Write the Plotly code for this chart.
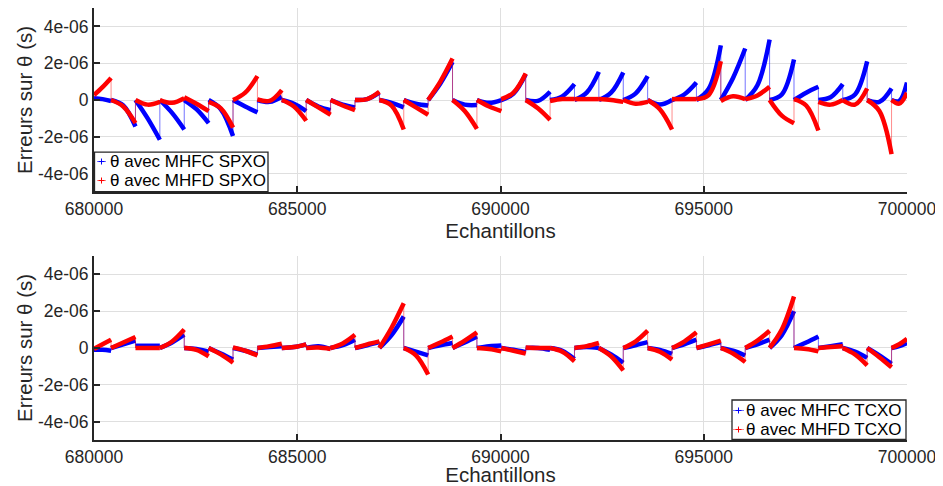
import plotly.graph_objects as go

# Segment boundaries (samples)
EDGES = [680000, 680420, 681020, 681620, 682220, 682820, 683420, 684020, 684620,
         685220, 685820, 686420, 687020, 687620, 688220, 688820, 689420, 690020,
         690620, 691220, 691820, 692420, 693020, 693620, 694220, 694820, 695420,
         696020, 696620, 697220, 697820, 698420, 699020, 699620, 700000]

X_TICKS = [680000, 685000, 690000, 695000, 700000]
X_TICKTEXT = ["680000", "685000", "690000", "695000", "700000"]
Y_TICKS = [-4e-6, -2e-6, 0, 2e-6, 4e-6]
Y_TICKTEXT = ["-4e-06", "-2e-06", "0", "2e-06", "4e-06"]

LEGEND_TOP = ["θ avec MHFC SPXO", "θ avec MHFD SPXO"]
LEGEND_BOTTOM = ["θ avec MHFC TCXO", "θ avec MHFD TCXO"]

# values in microseconds: start / middle / end of each segment
spxo_c_start = [0.1, 0, 0, 0, 0, 0, 0, 0, 0, 0, 0, 0, 0, 0, 0, 0, 0,
                0, 0, 0, 0, 0, 0, 0, 0, 0, 0, 0, 0, 0, 0, 0, 0, 0]
spxo_c_mid = [0.05, -0.3, -1.0, -0.7, -0.5, -0.5, -0.35, -0.1, -0.2, -0.35, -0.25, 0.05,
              -0.15, -0.2, 0.9, -0.25, -0.15, 0.35, -0.05, 0.2, 0.4, 0.4, 0.35, -0.25,
              0.3, 0.6, 1.2, 0.8, 0.3, 0.4, 0.15, 0.3, -0.1, -0.05]
spxo_c_end = [-0.05, -1.44, -2.16, -1.6, -1.26, -1.95, -0.67, 0.18, -0.6, -0.55, -0.4, 0.4,
              -0.4, -0.3, 2.07, -0.27, 0.0, 1.4, 0.45, 0.86, 1.53, 1.5, 1.3, 0.0,
              0.95, 2.97, 2.8, 3.28, 2.2, 0.72, 0.86, 2.1, 0.63, 0.95]

spxo_d_start = [0.27, 0, 0, 0, 0.15, -0.1, 0, 0.03, 0, 0, 0, 0, 0, 0, 0, 0, 0,
                0.05, 0, -0.05, 0.05, 0.05, 0, 0, 0.05, 0.05, -0.05, 0.05, 0, 0.05, -0.1, 0, 0, 0]
spxo_d_mid = [0.7, -0.35, -0.25, -0.15, -0.2, -0.45, 0.4, -0.05, -0.35, -0.4, -0.3, 0.05,
              -0.3, -0.4, 1.0, -0.6, -0.35, 0.4, -0.45, 0.05, 0.05, 0.0, -0.2, -0.5,
              0.05, 0.27, 0.2, 0.25, -0.85, -0.3, -0.25, -0.25, -0.6, -0.2]
spxo_d_end = [1.2, -1.26, -0.1, 0.1, -0.6, -1.5, 1.3, 0.54, -1.13, -0.8, -0.55, 0.45,
              -1.6, -0.8, 2.25, -1.57, -0.6, 1.44, -1.08, 0.05, 0.05, -0.1, -0.1, -1.6,
              0.05, 2.1, 0.05, 0.72, -1.26, -1.66, 0.0, 0.63, -2.94, 0.4]

tcxo_c_start = [-0.1, 0, 0.12, 0, 0, 0, 0, 0, 0, 0, 0, 0, 0, 0, 0, 0, 0,
                0, 0, 0, 0, 0, 0, 0, 0, 0, 0, 0, 0, 0, 0, 0, 0, 0]
tcxo_c_mid = [-0.1, 0.2, 0.12, 0.3, -0.05, -0.3, -0.15, 0.05, 0.05, 0.1, 0.15, 0.15,
              0.7, -0.2, 0.15, 0.3, 0.1, -0.1, 0.0, -0.15, 0.05, -0.35, 0.15, -0.1,
              0.2, 0.15, -0.15, 0.2, 0.7, 0.3, 0.1, -0.2, -0.4, 0.1]
tcxo_c_end = [-0.15, 0.4, 0.12, 0.72, -0.2, -0.63, -0.36, 0.1, 0.2, -0.05, 0.45, 0.32,
              1.71, -0.4, 0.27, 0.63, 0.14, -0.23, -0.1, -0.6, 0.0, -0.8, 0.32, -0.32,
              0.45, 0.32, -0.41, 0.45, 2.0, 0.63, 0.2, -0.54, -0.86, 0.27]

tcxo_d_start = [-0.05, 0, 0, 0, 0, 0, 0.03, 0, 0, 0, 0, 0, 0, 0, 0, 0, 0,
                0, 0.03, 0, 0, 0, 0, 0, 0, 0, 0, 0, 0, 0, 0, 0, 0, 0]
tcxo_d_mid = [0.2, 0.3, 0.0, 0.35, -0.1, -0.35, -0.15, 0.1, 0.05, 0.02, 0.25, 0.2,
              1.1, -0.4, 0.3, 0.4, -0.05, -0.15, 0.0, -0.2, 0.1, -0.45, 0.35, -0.2,
              0.35, 0.2, -0.3, 0.4, 1.0, -0.05, 0.05, -0.35, -0.5, 0.2]
tcxo_d_end = [0.45, 0.6, 0.0, 1.0, -0.45, -0.8, -0.4, 0.23, 0.2, -0.05, 0.72, 0.36,
              2.43, -1.44, 0.63, 0.85, -0.18, -0.3, 0.0, -0.72, 0.27, -1.22, 0.94, -0.63,
              0.85, 0.4, -0.76, 0.94, 2.8, -0.18, 0.1, -0.94, -1.05, 0.5]

US = 1e-6


def curve(starts, mids, ends):
    xs, ys = [], []
    for i in range(len(starts)):
        x0, x1 = EDGES[i], EDGES[i + 1]
        xs += [x0, (x0 + x1) / 2, x1, None]
        ys += [starts[i] * US, mids[i] * US, ends[i] * US, None]
    return xs, ys


def jumps(starts, ends):
    xs, ys = [], []
    for i in range(len(starts) - 1):
        xs += [EDGES[i + 1], EDGES[i + 1], None]
        ys += [ends[i] * US, starts[i + 1] * US, None]
    return xs, ys


BLUE = "rgb(0,0,255)"
RED = "rgb(255,0,0)"
BLUE_T = "rgba(0,0,255,0.55)"
RED_T = "rgba(255,0,0,0.45)"

fig = go.Figure()

series = [
    ("x", "y", LEGEND_TOP[0], spxo_c_start, spxo_c_mid, spxo_c_end, BLUE, BLUE_T),
    ("x", "y", LEGEND_TOP[1], spxo_d_start, spxo_d_mid, spxo_d_end, RED, RED_T),
    ("x2", "y2", LEGEND_BOTTOM[0], tcxo_c_start, tcxo_c_mid, tcxo_c_end, BLUE, BLUE_T),
    ("x2", "y2", LEGEND_BOTTOM[1], tcxo_d_start, tcxo_d_mid, tcxo_d_end, RED, RED_T),
]

for xa, ya, name, s, m, e, col, colt in series:
    jx, jy = jumps(s, e)
    fig.add_trace(go.Scatter(x=jx, y=jy, xaxis=xa, yaxis=ya, mode="lines",
                             line=dict(color=colt, width=1), showlegend=False,
                             hoverinfo="skip"))
    cx, cy = curve(s, m, e)
    fig.add_trace(go.Scatter(x=cx, y=cy, xaxis=xa, yaxis=ya, mode="lines",
                             line=dict(color=col, width=4.5, shape="spline", smoothing=1),
                             showlegend=False, name=name))

FONT = "Liberation Sans, Arial, Helvetica, sans-serif"
DARK = "#262626"

xcommon = dict(range=[680000, 700000], tickvals=X_TICKS, ticktext=X_TICKTEXT,
               showgrid=True, gridcolor="#dfdfdf", gridwidth=1, zeroline=False,
               showline=True, linecolor=DARK, linewidth=2, ticks="inside",
               ticklen=6, tickwidth=2, tickcolor=DARK, automargin=False,
               tickfont=dict(family=FONT, size=17.5, color=DARK),
               title=dict(text="Echantillons", font=dict(family=FONT, size=20.5, color=DARK),
                          standoff=0))
ycommon = dict(range=[-5e-6, 5e-6], tickvals=Y_TICKS, ticktext=Y_TICKTEXT,
               showgrid=True, gridcolor="#dfdfdf", gridwidth=1, zeroline=False,
               showline=True, linecolor=DARK, linewidth=2, ticks="inside",
               ticklen=6, tickwidth=2, tickcolor=DARK, automargin=False,
               tickfont=dict(family=FONT, size=17.5, color=DARK),
               title=dict(text="Erreurs sur θ (s)", font=dict(family=FONT, size=20.5, color=DARK),
                          standoff=0))

# The page places the figure 8 px from the top-left corner of the window.
fig.update_layout(
    width=935, height=478,
    margin=dict(l=86, r=36, t=0, b=46),
    paper_bgcolor="white", plot_bgcolor="white",
    xaxis=dict(xcommon, domain=[0, 1], anchor="y"),
    yaxis=dict(ycommon, domain=[0.574, 1], anchor="x"),
    xaxis2=dict(xcommon, domain=[0, 1], anchor="y2"),
    yaxis2=dict(ycommon, domain=[0, 0.426], anchor="x2"),
    showlegend=False,
)

# Manual legends (box, short line with '+' marker, text) in axis-domain coordinates
PW, PH = 813.0, 184.0  # plot area size in px


def add_legend(xd, yd, x0px, y0px, x1px, y1px, rows, labels, colors, tcolors,
               sym_x0, sym_x1, text_x):
    # px offsets are relative to the subplot's lower-left corner
    fig.add_shape(type="rect", xref=xd, yref=yd,
                  x0=x0px / PW, x1=x1px / PW, y0=y0px / PH, y1=y1px / PH,
                  line=dict(color=DARK, width=1.3), fillcolor="white", layer="above")
    for rpx, lab, col, tcol in zip(rows, labels, colors, tcolors):
        fig.add_shape(type="line", xref=xd, yref=yd,
                      x0=sym_x0 / PW, x1=sym_x1 / PW, y0=rpx / PH, y1=rpx / PH,
                      line=dict(color=tcol, width=1), layer="above")
        cx = (sym_x0 + sym_x1) / 2
        fig.add_shape(type="line", xref=xd, yref=yd,
                      x0=(cx - 3) / PW, x1=(cx + 3) / PW, y0=rpx / PH, y1=rpx / PH,
                      line=dict(color=col, width=1), layer="above")
        fig.add_shape(type="line", xref=xd, yref=yd,
                      x0=cx / PW, x1=cx / PW, y0=(rpx - 3) / PH, y1=(rpx + 3) / PH,
                      line=dict(color=col, width=1), layer="above")
        fig.add_annotation(xref=xd, yref=yd, x=text_x / PW, y=rpx / PH,
                           text=lab, showarrow=False, xanchor="left", yanchor="middle",
                           font=dict(family=FONT, size=17, color="black"))


add_legend("x domain", "y domain", 0.5, 0.5, 174, 40, [30.5, 11.5], LEGEND_TOP,
           [BLUE, RED], [BLUE_T, RED_T], 3, 12, 14)
add_legend("x2 domain", "y2 domain", 638, 0.5, 812, 40, [29.5, 10.5], LEGEND_BOTTOM,
           [BLUE, RED], [BLUE_T, RED_T], 639, 650, 650)

fig.write_html("out.html")
